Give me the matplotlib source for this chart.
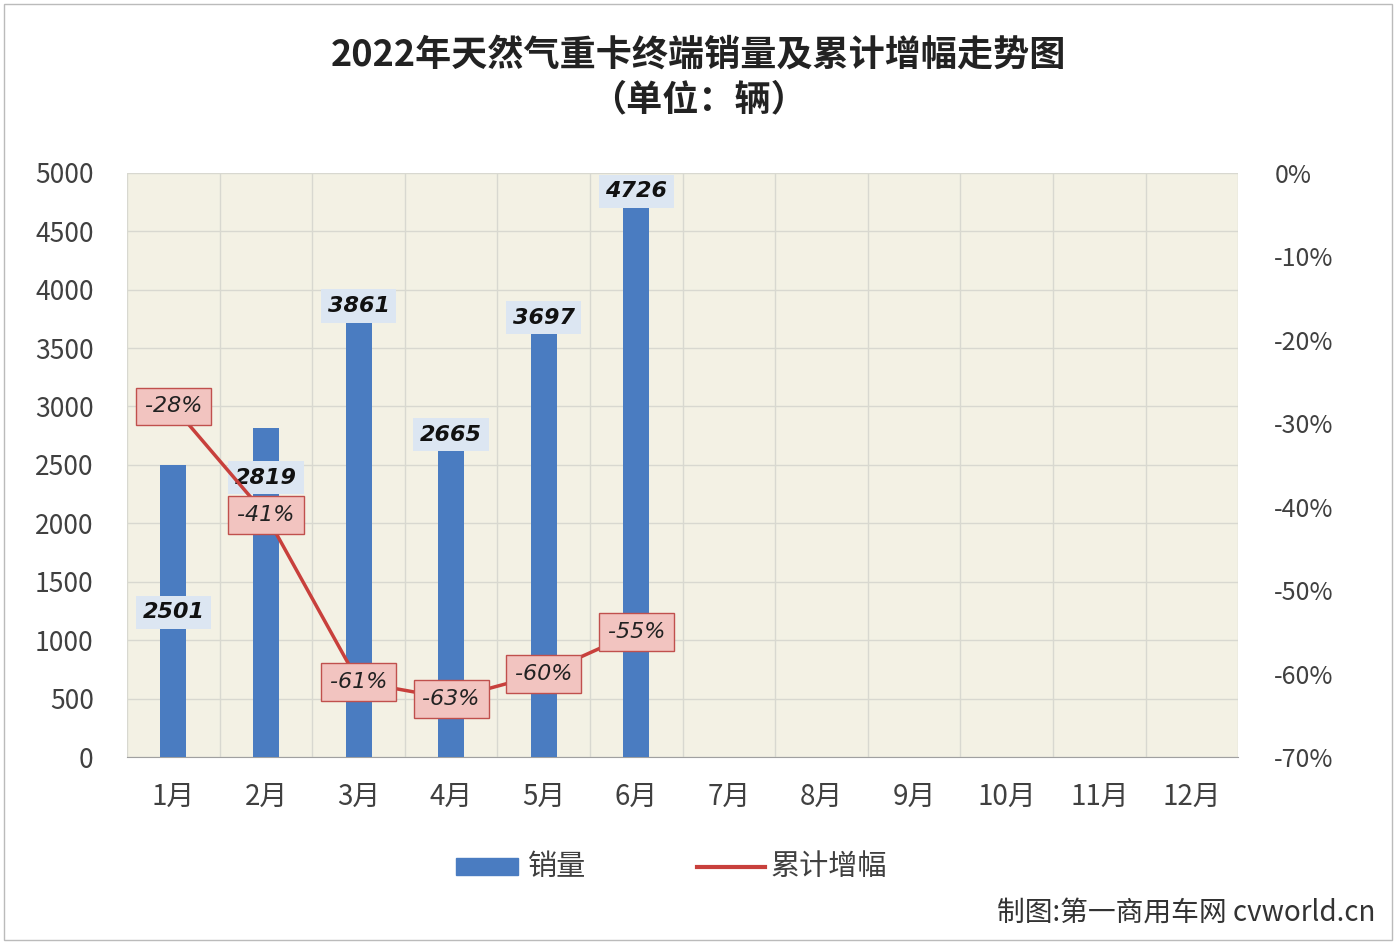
import matplotlib.pyplot as plt
from matplotlib.lines import Line2D
from matplotlib.patches import Rectangle

plt.rcParams['font.family'] = ['Noto Sans CJK SC', 'DejaVu Sans']

months = ['1月', '2月', '3月', '4月', '5月', '6月', '7月', '8月', '9月', '10月', '11月', '12月']
sales = [2501, 2819, 3861, 2665, 3697, 4726]
growth = [-28, -41, -61, -63, -60, -55]
# where the sales labels sit (left-axis units)
label_y = [1240, 2390, 3860, 2760, 3760, 4840]

blue = '#4A7CC1'
red = '#C8403C'
txt = '#404040'

fig = plt.figure(figsize=(13.96, 9.44), dpi=100)
fig.patches.append(Rectangle((0.003, 0.004), 0.994, 0.992, transform=fig.transFigure,
                             fill=False, edgecolor='#BBBBBB', lw=1))
ax = fig.add_axes([0.091, 0.198, 0.796, 0.619])
ax.set_facecolor('#F3F1E4')
x = range(len(sales))
ax.bar(x, sales, width=0.28, color=blue, zorder=3)
ax.set_xlim(-0.5, 11.5)
ax.set_ylim(0, 5000)
ax.set_yticks(range(0, 5001, 500))
ax.set_xticks(range(12))
ax.set_xticklabels(months)
for v in range(0, 5001, 500):
    ax.axhline(v, color='#D8D8D0', lw=1, zorder=1)
for i in range(13):
    ax.axvline(i - 0.5, color='#D8D8D0', lw=1, zorder=1)
for s in ['top', 'right', 'left']:
    ax.spines[s].set_visible(False)
ax.spines['bottom'].set_color('#A0A0A0')
ax.tick_params(axis='both', length=0, labelsize=19, colors=txt, pad=24)
ax.tick_params(axis='x', labelsize=20, pad=18)

for i, (v, ly) in enumerate(zip(sales, label_y)):
    ax.text(i, ly, str(v), ha='center', va='center', fontsize=16, fontweight='bold',
            style='italic', color='#111111', family='DejaVu Sans', zorder=6,
            bbox=dict(boxstyle='square,pad=0.3', fc='#DCE6F2', ec='none'))

ax2 = ax.twinx()
ax2.set_ylim(-70, 0)
ax2.set_yticks(range(-70, 1, 10))
ax2.set_yticklabels([f'{v}%' for v in range(-70, 1, 10)])
for s in ax2.spines.values():
    s.set_visible(False)
ax2.tick_params(axis='y', length=0, labelsize=18, colors=txt, pad=26)
ax2.plot(x, growth, color=red, lw=2.5, zorder=4)
for i, g in enumerate(growth):
    ax2.text(i, g, f'{g}%', ha='center', va='center', fontsize=16, style='italic',
             color='#222222', family='DejaVu Sans', zorder=6,
             bbox=dict(boxstyle='square,pad=0.4', fc='#F2C4C0', ec='#C0504D', lw=1))

fig.text(0.5, 0.942, '2022年天然气重卡终端销量及累计增幅走势图', ha='center', va='center',
         fontsize=26, fontweight='bold', color='#222222')
fig.text(0.5, 0.894, '（单位：辆）', ha='center', va='center',
         fontsize=26, fontweight='bold', color='#222222')

fig.patches.append(Rectangle((0.327, 0.073), 0.044, 0.018, transform=fig.transFigure, color=blue))
fig.text(0.378, 0.082, '销量', va='center', fontsize=21, color=txt)
fig.lines.append(Line2D([0.499, 0.548], [0.082, 0.082], transform=fig.transFigure, color=red, lw=3))
fig.text(0.552, 0.082, '累计增幅', va='center', fontsize=21, color=txt)

fig.text(0.985, 0.033, '制图:第一商用车网 cvworld.cn', ha='right', va='center',
         fontsize=20, color='#333333')

fig.savefig('out.png', dpi=100)
